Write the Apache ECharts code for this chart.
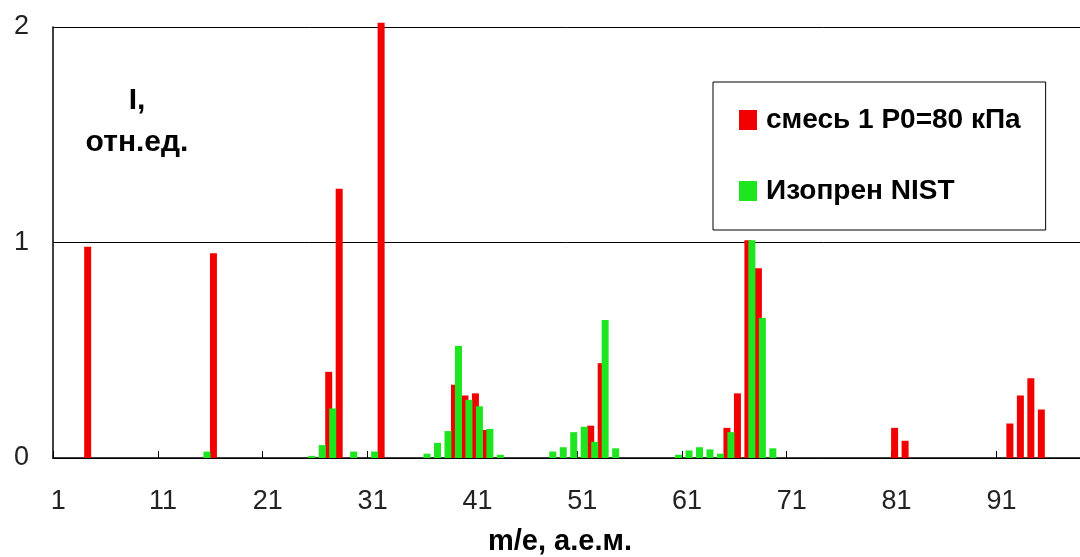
<!DOCTYPE html>
<html>
<head>
<meta charset="utf-8">
<script src="https://cdn.jsdelivr.net/npm/echarts@6/dist/echarts.min.js"></script>
<style>
  html, body { margin: 0; padding: 0; background: #fff; }
  #chart { width: 1080px; height: 557px; }
</style>
</head>
<body>
<div id="chart"></div>
<script>
// m/e categories, 1 .. 98
const mz = [
  1, 2, 3, 4, 5, 6, 7, 8, 9, 10, 11, 12, 13, 14, 15, 16, 17, 18, 19, 20,
  21, 22, 23, 24, 25, 26, 27, 28, 29, 30, 31, 32, 33, 34, 35, 36, 37, 38, 39, 40,
  41, 42, 43, 44, 45, 46, 47, 48, 49, 50, 51, 52, 53, 54, 55, 56, 57, 58, 59, 60,
  61, 62, 63, 64, 65, 66, 67, 68, 69, 70, 71, 72, 73, 74, 75, 76, 77, 78, 79, 80,
  81, 82, 83, 84, 85, 86, 87, 88, 89, 90, 91, 92, 93, 94, 95, 96, 97, 98
]

// смесь 1 P0=80 кПа
const mixMz = [4, 16, 27, 28, 32, 39, 40, 41, 42, 52, 53, 65, 66, 67, 68, 81, 82, 92, 93, 94, 95]
const mixI = [0.98, 0.95, 0.40, 1.25, 2.02, 0.34, 0.29, 0.30, 0.13, 0.15, 0.44, 0.14, 0.30, 1.01, 0.88, 0.14, 0.08, 0.16, 0.29, 0.37, 0.225]

// Изопрен NIST
const nistMz = [15, 25, 26, 27, 29, 31, 36, 37, 38, 39, 40, 41, 42, 43, 48, 49, 50, 51, 52, 53, 54, 60, 61, 62, 63, 64, 65, 67, 68, 69]
const nistI = [0.03, 0.01, 0.06, 0.23, 0.03, 0.03, 0.02, 0.07, 0.125, 0.52, 0.27, 0.24, 0.135, 0.015, 0.03, 0.05, 0.12, 0.145, 0.075, 0.64, 0.045, 0.015, 0.035, 0.05, 0.04, 0.02, 0.12, 1.01, 0.65, 0.045]

const yTicks = [0, 1, 2]

function spread (keys, vals) {
  return mz.map(m => {
    const k = keys.indexOf(m)
    return k < 0 ? null : vals[k]
  })
}

const chart = echarts.init(document.getElementById('chart'), null, { renderer: 'canvas' })

const option = {
  animation: false,
  backgroundColor: '#fff',
  grid: { left: 53, top: 27, width: 1029, height: 431, containLabel: false },
  legend: {
    orient: 'vertical',
    left: 713,
    top: 82,
    padding: [24, 25, 25, 26],
    itemGap: 43,
    itemWidth: 18,
    itemHeight: 20,
    icon: 'rect',
    backgroundColor: '#fff',
    borderColor: '#000',
    borderWidth: 1,
    borderRadius: 0,
    selectedMode: false,
    textStyle: {
      fontFamily: 'Liberation Sans',
      fontWeight: 'bold',
      fontSize: 28,
      lineHeight: 28,
      color: '#000',
      padding: [0, 0, 0, 4]
    },
    data: ['смесь 1 P0=80 кПа', 'Изопрен NIST']
  },
  xAxis: {
    type: 'category',
    data: mz,
    boundaryGap: true,
    axisLine: { lineStyle: { color: '#000', width: 1.5 } },
    axisTick: { show: true, inside: true, length: 7, interval: 9, lineStyle: { color: '#000' } },
    axisLabel: {
      interval: 9,
      margin: 30,
      fontFamily: 'Liberation Sans',
      fontSize: 27,
      color: '#222'
    },
    splitLine: { show: false }
  },
  yAxis: {
    type: 'value',
    min: yTicks[0],
    max: yTicks[yTicks.length - 1],
    interval: 1,
    axisLine: { show: true, lineStyle: { color: '#000', width: 1.5 } },
    axisTick: { show: false },
    axisLabel: {
      margin: 24,
      fontFamily: 'Liberation Sans',
      fontSize: 27,
      color: '#222'
    },
    splitLine: { show: true, lineStyle: { color: '#000', width: 1 } }
  },
  graphic: [
    {
      type: 'text',
      x: 137,
      y: 80,
      style: {
        text: 'I,\nотн.ед.',
        textAlign: 'center',
        fontFamily: 'Liberation Sans',
        fontWeight: 'bold',
        fontSize: 30,
        lineHeight: 42,
        fill: '#000'
      }
    },
    {
      type: 'text',
      x: 560,
      y: 527,
      style: {
        text: 'm/e, а.е.м.',
        textAlign: 'center',
        fontFamily: 'Liberation Sans',
        fontWeight: 'bold',
        fontSize: 29,
        fill: '#000'
      }
    }
  ],
  series: [
    {
      name: 'смесь 1 P0=80 кПа',
      type: 'bar',
      data: spread(mixMz, mixI),
      barWidth: 7,
      barGap: '-43%',
      clip: false,
      itemStyle: { color: '#f20000' }
    },
    {
      name: 'Изопрен NIST',
      type: 'bar',
      data: spread(nistMz, nistI),
      barWidth: 7,
      barGap: '-43%',
      clip: false,
      itemStyle: { color: '#1ee61e' }
    }
  ]
}

chart.setOption(option)
</script>
</body>
</html>
